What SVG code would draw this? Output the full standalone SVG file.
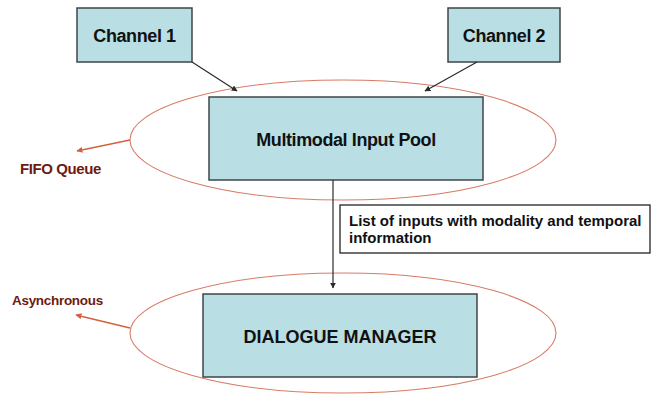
<svg xmlns="http://www.w3.org/2000/svg" width="651" height="397" viewBox="0 0 651 397">
<style>
.box{fill:#b9dfe4;stroke:#3f4548;stroke-width:1.5}
.ell{fill:none;stroke:#d77b66;stroke-width:1.1}
.t{font-family:"Liberation Sans",Arial,sans-serif;font-weight:bold;fill:#111;text-anchor:middle}
.lbl{font-family:"Liberation Sans",Arial,sans-serif;font-weight:bold;fill:#6e1a10}
.conn{stroke:#2a2a2a;stroke-width:1.2;fill:none;marker-end:url(#ah)}
.red{stroke:#d4603f;stroke-width:1.4;fill:none;marker-end:url(#rh)}
</style>
<defs>
<marker id="ah" viewBox="0 0 10 10" refX="9" refY="5" markerWidth="6" markerHeight="6" orient="auto" markerUnits="userSpaceOnUse"><path d="M0,0 L10,5 L0,10 z" fill="#2a2a2a"/></marker>
<marker id="rh" viewBox="0 0 10 10" refX="9" refY="5" markerWidth="6" markerHeight="6" orient="auto" markerUnits="userSpaceOnUse"><path d="M0,0 L10,5 L0,10 z" fill="#d4603f"/></marker>
</defs>
<rect width="651" height="397" fill="#fff"/>
<g id="pool-ellipse"><ellipse class="ell" cx="343" cy="140" rx="213" ry="60"/></g>
<g id="dm-ellipse"><ellipse class="ell" cx="343" cy="333" rx="213" ry="60"/></g>
<g id="channel1"><rect class="box" x="77" y="8" width="115" height="54"/><text class="t" x="134.5" y="42" font-size="18" letter-spacing="-0.4">Channel 1</text></g>
<g id="channel2"><rect class="box" x="448" y="8" width="112" height="54"/><text class="t" x="504" y="42" font-size="18" letter-spacing="-0.4">Channel 2</text></g>
<g id="pool"><rect class="box" x="209" y="97" width="274" height="83"/><text class="t" x="346" y="146" font-size="18" letter-spacing="-0.4">Multimodal Input Pool</text></g>
<g id="dm"><rect class="box" x="203" y="294" width="274" height="83"/><text class="t" x="340" y="343" font-size="18">DIALOGUE MANAGER</text></g>
<g id="label"><rect x="340" y="205" width="310" height="48" fill="#fff" stroke="#111" stroke-width="1.2"/><text class="lbl" style="fill:#111" x="349" y="226" font-size="15">List of inputs with modality and temporal</text><text class="lbl" style="fill:#111" x="349" y="243" font-size="15">information</text></g>
<g id="fifo"><text class="lbl" x="20" y="174" font-size="15" letter-spacing="-0.4">FIFO Queue</text></g>
<g id="async"><text class="lbl" x="12" y="305" font-size="13.5" letter-spacing="-0.3">Asynchronous</text></g>
<g id="connectors">
<line class="conn" x1="192" y1="62" x2="237" y2="91"/>
<line class="conn" x1="477" y1="62" x2="425" y2="91"/>
<line class="conn" x1="333" y1="180" x2="333" y2="288"/>
<line class="red" x1="130" y1="140" x2="77" y2="151"/>
<line class="red" x1="130" y1="328" x2="76" y2="315"/>
</g>
</svg>
